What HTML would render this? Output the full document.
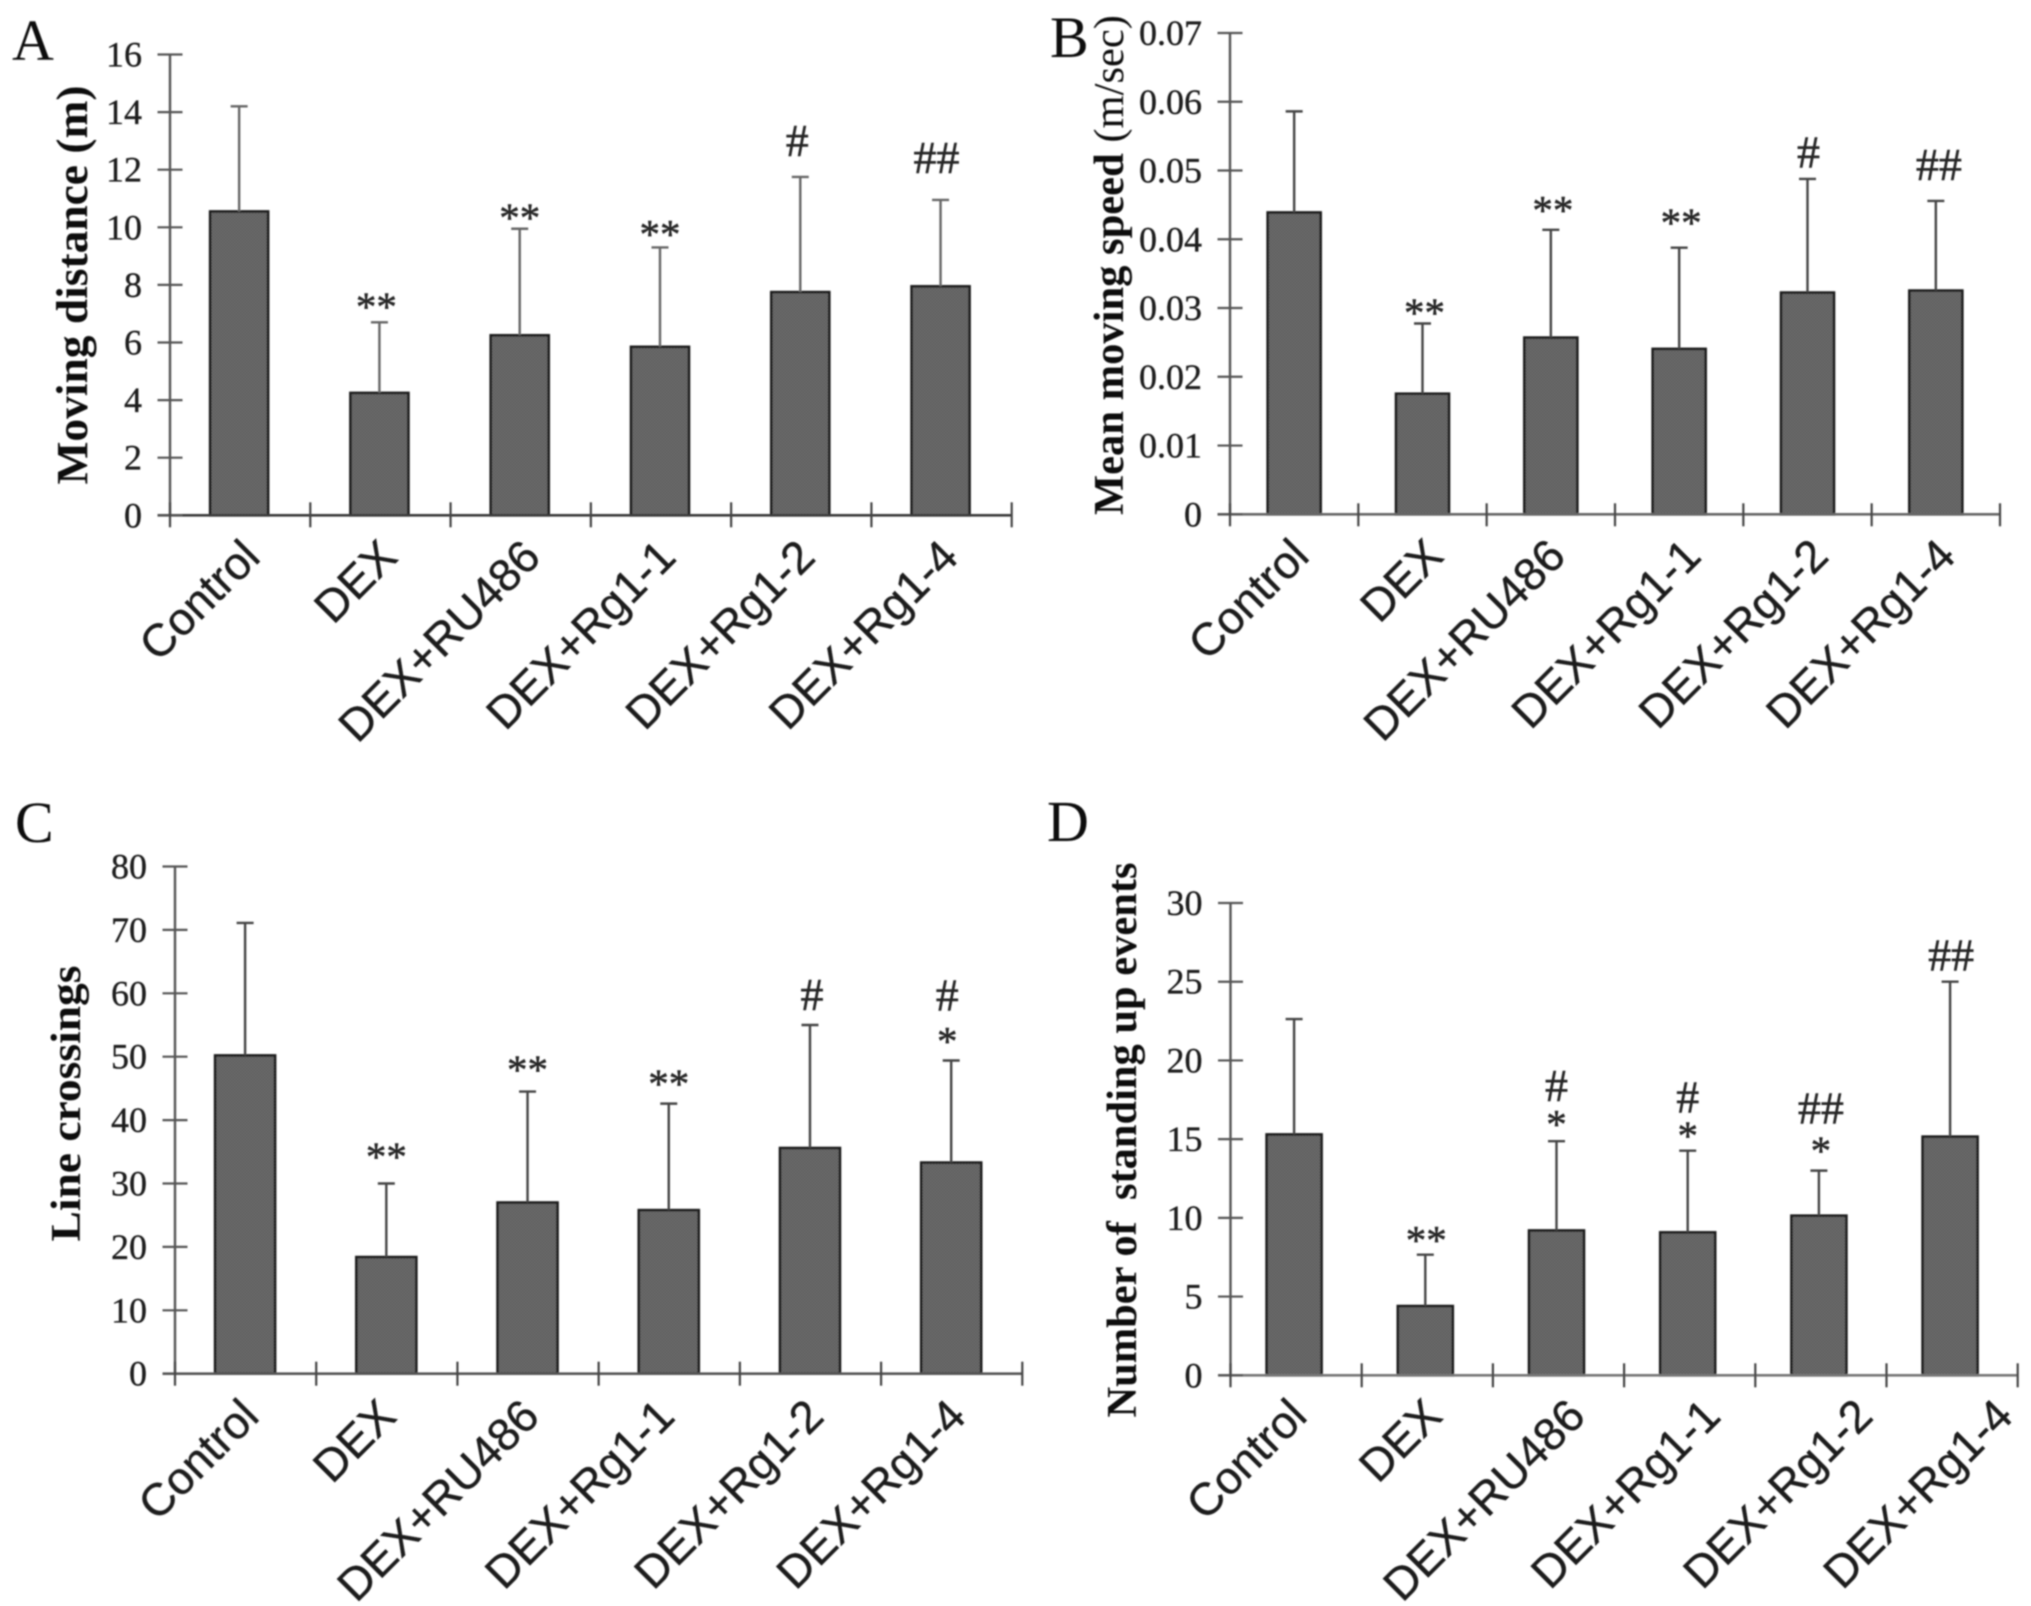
<!DOCTYPE html>
<html lang="en">
<head>
<meta charset="utf-8">
<title>Behavioural measures across treatment groups</title>
<style>
html,body{margin:0;padding:0;background:#fff;width:2031px;height:1606px;overflow:hidden}
svg{display:block}
.tick{font-family:"Liberation Serif",serif;font-size:36px;fill:#1c1c1c;stroke:#1c1c1c;stroke-width:.35;text-anchor:end}
.cat{font-family:"Liberation Sans",sans-serif;font-size:45.5px;fill:#1e1e1e;stroke:#1e1e1e;stroke-width:.4;text-anchor:end}
.ttl{font-family:"Liberation Serif",serif;font-weight:700;font-size:40px;fill:#111;text-anchor:middle}
.ltr{font-family:"Liberation Serif",serif;font-size:58px;fill:#111}
.ann{font-family:"Liberation Serif",serif;fill:#262626;stroke:#262626;stroke-width:.5;text-anchor:middle}
</style>
</head>
<body>
<svg id="figure" xmlns="http://www.w3.org/2000/svg" width="2031" height="1606" viewBox="0 0 2031 1606">
  <defs>
    <pattern id="dither" width="3" height="3" patternUnits="userSpaceOnUse">
      <rect width="3" height="3" fill="#6e6e6e"/>
      <rect width="1.5" height="1.5" fill="#5a5a5a"/>
      <rect x="1.5" y="1.5" width="1.5" height="1.5" fill="#5a5a5a"/>
    </pattern>
    <filter id="soft" x="-2%" y="-2%" width="104%" height="104%">
      <feGaussianBlur stdDeviation="0.7"/>
    </filter>
  </defs>
  <g filter="url(#soft)">
    <g id="panel-a"></g>
    <g id="panel-b"></g>
    <g id="panel-c"></g>
    <g id="panel-d"></g>
  </g>
</svg>
<script>
const categories = ["Control", "DEX", "DEX+RU486", "DEX+Rg1-1", "DEX+Rg1-2", "DEX+Rg1-4"];

const yTicksA = [0, 2, 4, 6, 8, 10, 12, 14, 16];
const yLabelsA = ["0", "2", "4", "6", "8", "10", "12", "14", "16"];
const meansA = [10.55, 4.25, 6.25, 5.85, 7.75, 7.95];
const errorTopsA = [14.2, 6.7, 9.95, 9.3, 11.75, 10.95];
const marksA = [[], ["**"], ["**"], ["**"], ["#"], ["##"]];

const yTicksB = [0, 0.01, 0.02, 0.03, 0.04, 0.05, 0.06, 0.07];
const yLabelsB = ["0", "0.01", "0.02", "0.03", "0.04", "0.05", "0.06", "0.07"];
const meansB = [0.0439, 0.01754, 0.0257, 0.02406, 0.03225, 0.03254];
const errorTopsB = [0.0586, 0.02775, 0.04138, 0.03877, 0.04877, 0.04558];
const marksB = [[], ["**"], ["**"], ["**"], ["#"], ["##"]];

const yTicksC = [0, 10, 20, 30, 40, 50, 60, 70, 80];
const yLabelsC = ["0", "10", "20", "30", "40", "50", "60", "70", "80"];
const meansC = [50.2, 18.4, 27.0, 25.8, 35.6, 33.3];
const errorTopsC = [71.1, 30.0, 44.5, 42.6, 55.0, 49.4];
const marksC = [[], ["**"], ["**"], ["**"], ["#"], ["*", "#"]];

const yTicksD = [0, 5, 10, 15, 20, 25, 30];
const yLabelsD = ["0", "5", "10", "15", "20", "25", "30"];
const meansD = [15.3, 4.4, 9.2, 9.08, 10.14, 15.16];
const errorTopsD = [22.63, 7.66, 14.87, 14.27, 13.0, 25.0];
const marksD = [[], ["**"], ["*", "#"], ["*", "#"], ["*", "##"], ["##"]];

const NS = "http://www.w3.org/2000/svg";

function make(parent, tag, attrs, text) {
  const el = document.createElementNS(NS, tag);
  for (const k in attrs) el.setAttribute(k, attrs[k]);
  if (text !== undefined) el.textContent = text;
  parent.appendChild(el);
  return el;
}

function drawPanel(p) {
  const root = document.getElementById(p.id);
  const yMin = p.ticks[0];
  const yMax = p.ticks[p.ticks.length - 1];
  const yScale = function (v) {
    return p.y0 - (v - yMin) / (yMax - yMin) * (p.y0 - p.yTop);
  };
  const band = (p.xRight - p.xLeft) / categories.length;
  const xCenter = function (i) {
    return p.xLeft + band * (i + 0.5) + p.barShift;
  };

  const letter = make(root, "text", { class: "ltr", x: p.letterX, y: p.letterY }, p.letter);
  
  

  const title = make(root, "text", {
    class: "ttl",
    transform: "translate(" + p.titleX + "," + p.titleY + ") rotate(-90)",
    textLength: p.titleLen,
    lengthAdjust: "spacingAndGlyphs"
  });
  
  
  title.style.fontSize = p.titleSize + "px";
  make(title, "tspan", {}, p.title);
  if (p.titleUnit) {
    const unit = make(title, "tspan", { "font-weight": "400" }, p.titleUnit);
    
    
  }

  categories.forEach(function (c, i) {
    const cx = xCenter(i);
    const top = yScale(p.means[i]);
    const errTop = yScale(p.errors[i]);

    const bar = make(root, "rect", {
      x: cx - p.barW / 2, y: top, width: p.barW, height: p.y0 - top,
      fill: "url(#dither)", stroke: "#1e1e1e", "stroke-width": 2.6
    });
    
    

    const stem = make(root, "line", {
      x1: cx, x2: cx, y1: top, y2: errTop, stroke: p.errColor, "stroke-width": 2.4
    });
    
    

    const cap = make(root, "line", {
      x1: cx - 8.5, x2: cx + 8.5, y1: errTop, y2: errTop, stroke: p.errColor, "stroke-width": 2.4
    });
    
    

    p.marks[i].forEach(function (m, j) {
      const isHash = m.charAt(0) === "#";
      const note = make(root, "text", {
        class: "ann",
        x: cx + p.markDx[i],
        y: errTop - p.markGaps[i][j],
        "font-size": isHash ? 46 : 41
      }, m);
      
      
    });

    const lx = cx + p.labelDx[i];
    const ly = p.y0 + p.labelDy;
    const label = make(root, "text", {
      class: "cat", x: lx, y: ly, transform: "rotate(" + p.labelAngle + " " + lx + " " + ly + ")"
    }, c);
    
    
  });

  const yAxis = make(root, "line", {
    x1: p.xLeft, x2: p.xLeft, y1: p.yTop, y2: p.y0, stroke: "#555", "stroke-width": 2.4
  });
  
  

  const xAxis = make(root, "line", {
    x1: p.xLeft - 12.5, x2: p.xRight, y1: p.y0, y2: p.y0, stroke: p.axisColor, "stroke-width": 2.6
  });
  
  

  p.ticks.forEach(function (t, i) {
    const y = yScale(t);
    const tick = make(root, "line", {
      x1: p.xLeft - 12.5, x2: p.xLeft + 12.5, y1: y, y2: y, stroke: "#555", "stroke-width": 2.2
    });
    
    

    const tl = make(root, "text", { class: "tick", x: p.xLeft - 28, y: y + 12 }, p.tickLabels[i]);
    
    
  });

  for (let i = 0; i <= categories.length; i++) {
    const x = p.xLeft + band * i;
    const ct = make(root, "line", {
      x1: x, x2: x, y1: p.y0 - p.catUp, y2: p.y0 + p.catDown, stroke: "#444", "stroke-width": 2.2
    });
    
    
  }
}

drawPanel({
  id: "panel-a", letter: "A", letterX: 12, letterY: 60,
  ticks: yTicksA, tickLabels: yLabelsA, means: meansA, errors: errorTopsA, marks: marksA,
  xLeft: 170, xRight: 1011.7, y0: 515.3, yTop: 54.5, barW: 58, barShift: -1,
  catUp: 13, catDown: 12, errColor: "#666", axisColor: "#3a3a3a",
  title: "Moving distance (m)", titleUnit: "", titleX: 87, titleY: 285, titleLen: 399, titleSize: 44,
  markDx: [0, -3, 0, 0, -3, -4],
  markGaps: [[], [2], [-3], [-0.5], [21], [27]],
  labelDx: [23, 20, 23, 18, 17, 20], labelDy: 44, labelAngle: -45
});

drawPanel({
  id: "panel-b", letter: "B", letterX: 1050, letterY: 57,
  ticks: yTicksB, tickLabels: yLabelsB, means: meansB, errors: errorTopsB, marks: marksB,
  xLeft: 1230, xRight: 2000, y0: 514.3, yTop: 33, barW: 53, barShift: 0,
  catUp: 11, catDown: 12, errColor: "#444", axisColor: "#666",
  title: "Mean moving speed ", titleUnit: "(m/sec)", titleX: 1123, titleY: 265, titleLen: 500, titleSize: 42,
  markDx: [0, 2, 2, 2, 1, 3],
  markGaps: [[], [-3], [6], [11], [11.5], [21]],
  labelDx: [17, 23, 17, 24, 23, 22], labelDy: 44, labelAngle: -45
});

drawPanel({
  id: "panel-c", letter: "C", letterX: 15, letterY: 842,
  ticks: yTicksC, tickLabels: yLabelsC, means: meansC, errors: errorTopsC, marks: marksC,
  xLeft: 175, xRight: 1022.3, y0: 1373.7, yTop: 866.5, barW: 60, barShift: -0.5,
  catUp: 12, catDown: 12, errColor: "#444", axisColor: "#555",
  title: "Line crossings", titleUnit: "", titleX: 80, titleY: 1103.5, titleLen: 276, titleSize: 42,
  markDx: [0, 0, 0, 0, 2, -4],
  markGaps: [[], [13], [8], [6], [15], [5.6, 50]],
  labelDx: [16, 12, 14, 8, 16, 17], labelDy: 45, labelAngle: -45
});

drawPanel({
  id: "panel-d", letter: "D", letterX: 1047, letterY: 841,
  ticks: yTicksD, tickLabels: yLabelsD, means: meansD, errors: errorTopsD, marks: marksD,
  xLeft: 1230.5, xRight: 2017.7, y0: 1375.3, yTop: 903, barW: 55, barShift: -2,
  catUp: 12, catDown: 12, errColor: "#444", axisColor: "#777",
  title: "Number of\u00a0 standing up events", titleUnit: "", titleX: 1136, titleY: 1140, titleLen: 555, titleSize: 42,
  markDx: [0, 1, 0, 0, 2, 1],
  markGaps: [[], [0.5], [3, 40], [1, 38], [6, 47], [11]],
  labelDx: [15, 19, 31, 35, 56, 65], labelDy: 43, labelAngle: -45
});
</script>
</body>
</html>
